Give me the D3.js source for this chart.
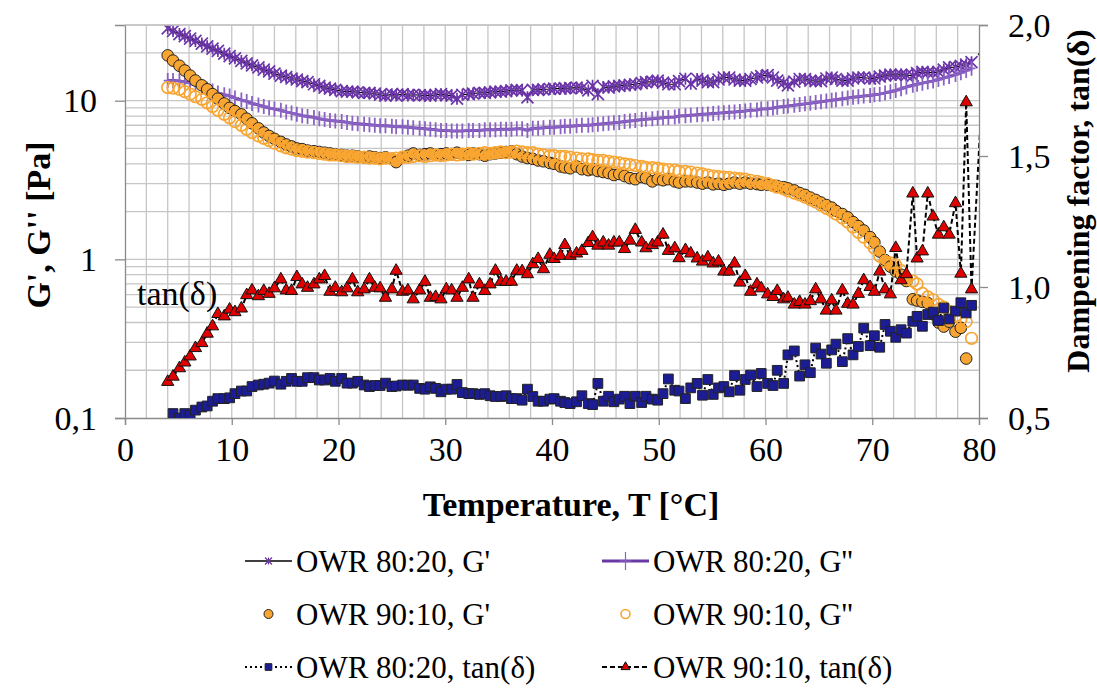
<!DOCTYPE html>
<html>
  <head>
    <meta charset="utf-8" />
    <script src="https://cdn.jsdelivr.net/npm/d3@7"></script>
    <style>
      body { margin: 0; background: #fff; }
      text { font-family: "Liberation Serif", "Times New Roman", serif; fill: #000; }
    </style>
  </head>

  <body>
    <svg width="1097" height="691"></svg>

    <script type="text/javascript">
      // temperature of each measurement point [°C]
      var temps = [
        4.0, 4.5, 5.1, 5.6, 6.1, 6.6, 7.2, 7.7, 8.2, 8.7,
        9.3, 9.8, 10.3, 10.9, 11.4, 11.9, 12.5, 13.0, 13.5, 14.0,
        14.6, 15.1, 15.6, 16.1, 16.6, 17.1, 17.7, 18.2, 18.7, 19.2,
        19.7, 20.3, 20.8, 21.3, 21.8, 22.4, 22.9, 23.4, 23.9, 24.4,
        25.0, 25.4, 26.0, 26.5, 27.0, 27.6, 28.1, 28.6, 29.1, 29.6,
        30.1, 30.6, 31.1, 31.6, 32.2, 32.6, 33.2, 33.7, 34.2, 34.7,
        35.2, 35.7, 36.2, 36.7, 37.2, 37.7, 38.2, 38.7, 39.2, 39.8,
        40.2, 40.8, 41.2, 41.7, 42.3, 42.8, 43.4, 43.8, 44.3, 44.8,
        45.3, 45.8, 46.3, 46.8, 47.3, 47.8, 48.4, 48.8, 49.4, 49.9,
        50.4, 50.9, 51.5, 51.9, 52.5, 53.0, 53.6, 54.1, 54.6, 55.1,
        55.6, 56.1, 56.6, 57.1, 57.6, 58.1, 58.6, 59.2, 59.6, 60.2,
        60.7, 61.1, 61.7, 62.1, 62.7, 63.2, 63.7, 64.2, 64.7, 65.2,
        65.7, 66.2, 66.6, 67.2, 67.7, 68.2, 68.7, 69.2, 69.8, 70.2,
        70.7, 71.2, 71.7, 72.2, 72.7, 73.2, 73.8, 74.2, 74.7, 75.2,
        75.7, 76.2, 76.7, 77.2, 77.8, 78.3, 78.8, 79.3, 80.5
      ];

      // OWR 80:20, G' [Pa]
      var gp8020 = [
        28.6, 27.5, 26.3, 25.5, 24.6, 23.8, 22.9, 22.0, 21.3, 20.6,
        19.8, 19.1, 18.5, 17.8, 17.2, 16.7, 16.2, 15.7, 15.3, 14.8,
        14.4, 14.1, 13.8, 13.6, 13.3, 13.1, 12.7, 12.4, 12.1, 11.9,
        11.7, 11.5, 11.4, 11.4, 11.3, 11.2, 11.2, 11.1, 10.9, 10.75,
        11.0, 10.8, 11.0, 10.8, 10.9, 10.85, 10.8, 10.75, 10.9, 11.0,
        10.8, 10.75, 10.3, 10.9, 11.0, 11.1, 11.2, 11.2, 11.3, 11.4,
        11.4, 11.5, 11.6, 11.7, 11.6, 10.5, 11.7, 11.7, 11.8, 11.85,
        11.9, 11.9, 12.0, 12.0, 12.1, 12.0, 11.6, 12.4, 11.0, 12.2,
        12.1, 12.3, 12.4, 12.5, 12.6, 12.7, 12.9, 13.1, 13.2, 13.4,
        13.0, 12.7, 12.7, 13.3, 13.75, 12.8, 13.7, 13.4, 13.1, 13.1,
        13.6, 14.0, 14.0, 13.6, 13.4, 13.4, 13.7, 14.0, 14.3, 14.5,
        14.0, 13.4, 13.0, 12.5, 13.2, 13.7, 13.7, 13.4, 13.3, 13.3,
        13.8, 14.0, 13.7, 13.4, 13.4, 13.8, 14.0, 14.0, 13.8, 13.8,
        14.2, 14.4, 14.6, 14.5, 14.6, 14.5, 14.4, 14.9, 15.2, 15.1,
        15.0, 15.2, 15.7, 16.2, 16.3, 16.6, 16.9, 17.5, null
      ];

      // OWR 80:20, G'' [Pa]
      var gpp8020 = [
        13.4, 13.4, 13.3, 13.1, 12.9, 12.6, 12.2, 11.8, 11.5, 11.2,
        10.9, 10.7, 10.4, 10.1, 9.9, 9.6, 9.4, 9.2, 9.0, 8.85,
        8.7, 8.5, 8.35, 8.2, 8.05, 7.95, 7.85, 7.7, 7.6, 7.5,
        7.45, 7.4, 7.3, 7.2, 7.15, 7.1, 7.05, 7.0, 6.95, 6.95,
        6.9, 6.85, 6.85, 6.8, 6.75, 6.7, 6.65, 6.6, 6.55, 6.5,
        6.5, 6.45, 6.45, 6.45, 6.5, 6.5, 6.5, 6.55, 6.55, 6.55,
        6.6, 6.6, 6.6, 6.65, 6.65, 6.5, 6.7, 6.7, 6.75, 6.8,
        6.8, 6.85, 6.9, 6.9, 6.95, 7.0, 7.0, 7.05, 7.1, 7.15,
        7.2, 7.25, 7.3, 7.4, 7.45, 7.5, 7.6, 7.65, 7.7, 7.75,
        7.8, 7.85, 7.9, 8.0, 8.05, 8.1, 8.15, 8.2, 8.25, 8.3,
        8.35, 8.4, 8.45, 8.5, 8.55, 8.6, 8.7, 8.75, 8.85, 8.9,
        9.0, 9.1, 9.2, 9.25, 9.35, 9.45, 9.55, 9.65, 9.75, 9.85,
        9.95, 10.05, 10.15, 10.3, 10.4, 10.5, 10.6, 10.7, 10.8, 10.9,
        11.0, 11.2, 11.4, 11.6, 11.9, 12.2, 12.5, 12.7, 12.9, 13.1,
        13.3, 13.6, 13.9, 14.2, 14.6, 15.0, 15.5, 16.0, null
      ];

      // OWR 90:10, G' [Pa]
      var gp9010 = [
        19.3, 17.9, 16.6, 15.5, 14.4, 13.4, 12.5, 11.8, 11.0, 10.3,
        9.6, 9.0, 8.6, 8.2, 7.7, 7.2, 6.7, 6.3, 6.0, 5.75,
        5.5, 5.3, 5.15, 5.0, 4.95, 4.85, 4.8, 4.75, 4.7, 4.65,
        4.6, 4.55, 4.5, 4.5, 4.45, 4.4, 4.45, 4.4, 4.35, 4.4,
        4.3, 4.1, 4.4, 4.5, 4.65, 4.55, 4.6, 4.65, 4.55, 4.6,
        4.65, 4.6, 4.7, 4.6, 4.55, 4.65, 4.6, 4.5, 4.6, 4.65,
        4.7, 4.75, 4.8, 4.6, 4.45, 4.35, 4.3, 4.2, 4.15, 4.05,
        4.0, 3.85, 3.8, 3.75, 3.85, 3.7, 3.65, 3.7, 3.6, 3.55,
        3.5, 3.4, 3.45, 3.35, 3.25, 3.2, 3.3, 3.25, 3.1, 3.2,
        3.15, 3.2, 3.1, 3.05, 3.1, 3.1, 3.05, 3.0, 3.05, 2.97,
        3.0, 2.95, 3.0, 3.05, 3.0, 3.05, 3.0, 2.98, 2.95, 2.95,
        2.92, 2.9, 2.85, 2.8, 2.72, 2.62, 2.55, 2.45, 2.37, 2.28,
        2.2, 2.12, 2.02, 1.93, 1.84, 1.72, 1.62, 1.52, 1.38, 1.28,
        1.12, 0.99, 0.9, 0.84, 0.8, 0.73, 0.56, 0.55, 0.54, 0.53,
        0.45, 0.4, 0.377, 0.405, 0.35, 0.37, 0.237, null, null
      ];

      // OWR 90:10, G'' [Pa]
      var gpp9010 = [
        12.1, 12.0, 11.8, 11.4, 11.0, 10.6, 10.2, 9.7, 9.2, 8.7,
        8.2, 7.8, 7.4, 7.0, 6.6, 6.3, 6.0, 5.8, 5.6, 5.4,
        5.2, 5.05, 4.95, 4.85, 4.8, 4.75, 4.7, 4.65, 4.6, 4.55,
        4.55, 4.5, 4.45, 4.45, 4.4, 4.4, 4.35, 4.35, 4.3, 4.35,
        4.3, 4.35, 4.4, 4.4, 4.45, 4.5, 4.45, 4.5, 4.55, 4.5,
        4.55, 4.6, 4.55, 4.6, 4.65, 4.6, 4.65, 4.7, 4.65, 4.7,
        4.75, 4.7, 4.75, 4.8, 4.75, 4.7, 4.7, 4.6, 4.55, 4.5,
        4.5, 4.45, 4.45, 4.4, 4.35, 4.3, 4.3, 4.25, 4.2, 4.2,
        4.15, 4.1, 4.05, 4.0, 3.95, 3.9, 3.85, 3.8, 3.78, 3.75,
        3.7, 3.68, 3.65, 3.6, 3.58, 3.55, 3.5, 3.45, 3.4, 3.35,
        3.32, 3.3, 3.28, 3.25, 3.22, 3.2, 3.15, 3.1, 3.05, 3.0,
        2.92, 2.85, 2.78, 2.7, 2.62, 2.55, 2.47, 2.38, 2.3, 2.2,
        2.1, 2.02, 1.93, 1.82, 1.72, 1.6, 1.48, 1.38, 1.27, 1.18,
        1.05, 0.97, 0.95, 0.92, 0.85, 0.76, 0.73, 0.7, 0.61, 0.58,
        0.556, 0.52, 0.5, 0.47, 0.44, 0.42, 0.405, 0.318, null
      ];

      // OWR 80:20, tan(δ)
      var tan8020 = [
        null, 0.517, 0.5, 0.517, 0.51, 0.53, 0.542, 0.546, 0.564, 0.574,
        0.574, 0.577, 0.593, 0.603, 0.603, 0.62, 0.626, 0.629, 0.633, 0.641,
        0.629, 0.64, 0.651, 0.64, 0.64, 0.654, 0.654, 0.645, 0.645, 0.651,
        0.64, 0.651, 0.633, 0.633, 0.64, 0.626, 0.62, 0.624, 0.624, 0.633,
        0.62, 0.622, 0.626, 0.625, 0.626, 0.613, 0.61, 0.619, 0.613, 0.6,
        0.61, 0.61, 0.628, 0.597, 0.593, 0.593, 0.59, 0.593, 0.585, 0.582,
        0.582, 0.585, 0.574, 0.574, 0.568, 0.61, 0.582, 0.564, 0.564, 0.572,
        0.574, 0.564, 0.559, 0.555, 0.562, 0.585, 0.555, 0.551, 0.632, 0.564,
        0.583, 0.562, 0.572, 0.583, 0.555, 0.583, 0.559, 0.583, 0.572, 0.568,
        0.593, 0.649, 0.606, 0.603, 0.574, 0.615, 0.632, 0.587, 0.647, 0.59,
        0.615, 0.62, 0.6, 0.662, 0.606, 0.647, 0.664, 0.62, 0.67, 0.632,
        0.624, 0.682, 0.632, 0.741, 0.756, 0.66, 0.703, 0.673, 0.767, 0.744,
        0.709, 0.76, 0.782, 0.715, 0.803, 0.741, 0.773, 0.843, 0.776, 0.814,
        0.77, 0.857, 0.831, 0.808, 0.837, 0.824, 0.869, 0.888, 0.85, 0.895,
        0.904, 0.872, 0.92, 0.878, 0.908, 0.94, 0.901, 0.93, null
      ];

      // OWR 90:10, tan(δ)
      var tan9010 = [
        0.638, 0.658, 0.69, 0.712, 0.735, 0.767, 0.786, 0.822, 0.85, 0.897,
        0.888, 0.914, 0.904, 0.918, 0.969, 0.987, 0.965, 0.985, 0.974, 0.995,
        1.029, 0.987, 0.985, 1.038, 1.01, 0.997, 1.01, 1.029, 1.042, 0.982,
        0.997, 0.98, 0.995, 1.029, 0.98, 0.991, 1.029, 0.997, 0.995, 0.959,
        0.991, 1.062, 0.982, 0.987, 0.953, 0.987, 1.02, 0.959, 0.962, 0.953,
        0.991, 0.987, 0.959, 0.997, 1.029, 0.959, 1.01, 0.985, 1.01, 1.062,
        1.02, 1.02, 1.02, 1.062, 1.06, 1.049, 1.087, 1.107, 1.068, 1.123,
        1.107, 1.119, 1.16, 1.119, 1.128, 1.138, 1.168, 1.19, 1.158, 1.17,
        1.158, 1.17, 1.17, 1.145, 1.177, 1.218, 1.17, 1.148, 1.16, 1.17,
        1.2, 1.138, 1.148, 1.11, 1.141, 1.128, 1.109, 1.097, 1.113, 1.09,
        1.097, 1.059, 1.059, 1.09, 1.017, 1.042, 0.982, 1.01, 0.995, 0.972,
        0.962, 0.985, 0.953, 0.959, 0.933, 0.943, 0.933, 0.946, 0.991, 0.953,
        0.91, 0.949, 0.91, 0.987, 0.936, 0.933, 0.974, 1.026, 1.0, 0.982,
        1.059, 0.991, 0.972, 1.149, 1.026, 1.049, 1.357, 1.109, 1.136, 1.357,
        1.269, 1.2, 1.228, 1.2, 1.32, 1.051, 1.705, 0.991, 1.9
      ];

      var xTicks = [0, 10, 20, 30, 40, 50, 60, 70, 80];
      var xGrid = [2, 4, 6, 8, 10, 12, 14, 16, 18, 20, 22, 24, 26, 28, 30, 32, 34, 36, 38,
        40, 42, 44, 46, 48, 50, 52, 54, 56, 58, 60, 62, 64, 66, 68, 70, 72, 74, 76, 78];
      var yLeftTicks = [0.1, 1, 10];
      var yLeftLabels = ["0,1", "1", "10"];
      var yLeftGrid = [0.2, 0.3, 0.4, 0.5, 0.6, 0.7, 0.8, 0.9, 1, 2, 3, 4, 5, 6, 7, 8, 9, 10, 20, 30];
      var yRightTicks = [0.5, 1.0, 1.5, 2.0];
      var yRightLabels = ["0,5", "1,0", "1,5", "2,0"];

      var svg = d3.select("svg");
      var plotL = 125, plotR = 979, plotT = 25, plotB = 418;

      var x = d3.scaleLinear().domain([0, 80]).range([plotL, plotR]);
      var yL = d3.scaleLog().domain([0.1, 30]).range([plotB, plotT]);
      var yR = d3.scaleLinear().domain([0.5, 2.0]).range([plotB, plotT]);

      svg.append("defs").append("clipPath").attr("id", "plot")
        .append("rect").attr("x", plotL).attr("y", plotT)
        .attr("width", plotR - plotL).attr("height", plotB - plotT);

      // grid
      var gridColor = "#c6c6c6";
      var grid = svg.append("g").attr("class", "grid");
      grid.selectAll(null).data(xGrid).enter().append("line")
        .attr("x1", (d) => x(d)).attr("x2", (d) => x(d))
        .attr("y1", plotT).attr("y2", plotB)
        .attr("stroke", gridColor).attr("stroke-width", 1.3);
      grid.selectAll(null).data(yLeftGrid).enter().append("line")
        .attr("x1", plotL).attr("x2", plotR)
        .attr("y1", (d) => yL(d)).attr("y2", (d) => yL(d))
        .attr("stroke", gridColor).attr("stroke-width", 1.3);

      // axes
      var axisColor = "#8a8a8a";
      var gx = svg.append("g").attr("transform", "translate(0," + plotB + ")")
        .call(d3.axisBottom(x).tickValues(xTicks).tickSize(7).tickPadding(12));
      var gl = svg.append("g").attr("transform", "translate(" + plotL + ",0)")
        .call(d3.axisLeft(yL).tickValues(yLeftTicks).tickSize(10).tickPadding(18)
          .tickFormat((d, i) => yLeftLabels[i]));
      var gr = svg.append("g").attr("transform", "translate(" + plotR + ",0)")
        .call(d3.axisRight(yR).tickValues(yRightTicks).tickSize(9).tickPadding(20)
          .tickFormat((d, i) => yRightLabels[i]));

      [gx, gl, gr].forEach((g) => {
        g.select(".domain").attr("stroke", axisColor).attr("stroke-width", 1.3);
        g.selectAll(".tick line").attr("stroke", axisColor).attr("stroke-width", 1.3);
        g.selectAll(".tick text")
          .attr("font-family", "Liberation Serif, Times New Roman, serif")
          .attr("font-size", 34).attr("fill", "#000");
      });
      gx.selectAll(".tick text").attr("dy", "0.71em");
      gl.selectAll(".tick text").attr("dy", "0.33em");
      gr.selectAll(".tick text").attr("dy", "0.33em");

      // axis titles
      svg.append("text").attr("x", 571).attr("y", 516)
        .attr("text-anchor", "middle").attr("font-size", 34).attr("font-weight", "bold")
        .text("Temperature, T [°C]");
      svg.append("text").attr("transform", "translate(50,225) rotate(-90)")
        .attr("text-anchor", "middle").attr("font-size", 34).attr("font-weight", "bold")
        .text("G', G'' [Pa]");
      svg.append("text").attr("transform", "translate(1089,201) rotate(-90)")
        .attr("text-anchor", "middle").attr("font-size", 32).attr("font-weight", "bold")
        .text("Dampening factor, tan(δ)");

      // marker shapes
      var starPath = (s) =>
        "M" + -s + "," + -s + "L" + s + "," + s + "M" + -s + "," + s + "L" + s + "," + -s +
        "M0," + -s + "L0," + s;
      var plusPath = (h, w) => "M0," + -h + "L0," + h + "M" + -w + ",0L" + w + ",0";
      var circle = (r) =>
        "M" + -r + ",0A" + r + "," + r + " 0 1,0 " + r + ",0A" + r + "," + r + " 0 1,0 " + -r + ",0Z";
      var squarePath = d3.symbol().type(d3.symbolSquare);
      var trianglePath = d3.symbol().type(d3.symbolTriangle);

      function points(vals) {
        return temps.map((t, i) => ({ t: t, v: vals[i] }));
      }

      var plot = svg.append("g").attr("clip-path", "url(#plot)");

      function drawSeries(vals, yScale, opt) {
        var pts = points(vals);
        var g = plot.append("g");
        if (opt.line) {
          var lineGen = d3.line()
            .defined((d) => d.v != null)
            .x((d) => x(d.t))
            .y((d) => yScale(d.v));
          g.append("path")
            .attr("d", lineGen(pts))
            .attr("fill", "none")
            .attr("stroke", opt.line)
            .attr("stroke-width", opt.lineWidth)
            .attr("stroke-dasharray", opt.dash || null);
        }
        g.selectAll(null)
          .data(pts.filter((d) => d.v != null))
          .enter()
          .append("path")
          .attr("transform", (d) => "translate(" + x(d.t) + "," + yScale(d.v) + ")")
          .attr("d", opt.marker)
          .attr("fill", opt.fill)
          .attr("stroke", opt.stroke)
          .attr("stroke-width", opt.strokeWidth);
      }

      drawSeries(gp8020, yL, {
        line: "#000", lineWidth: 1.2, marker: starPath(6),
        fill: "none", stroke: "#6b35a8", strokeWidth: 1.7
      });
      drawSeries(gpp8020, yL, {
        line: "#6a38a4", lineWidth: 3, marker: plusPath(7.5, 4),
        fill: "none", stroke: "#8a62c4", strokeWidth: 1.8
      });
      drawSeries(gp9010, yL, {
        marker: circle(5.8), fill: "#f8a532", stroke: "#222", strokeWidth: 1
      });
      drawSeries(gpp9010, yL, {
        marker: circle(5.8), fill: "none", stroke: "#f9a531", strokeWidth: 1.7
      });
      drawSeries(tan8020, yR, {
        line: "#000", lineWidth: 2, dash: "2,3", marker: squarePath.size(95)(),
        fill: "#1c1c94", stroke: "#222", strokeWidth: 1
      });
      drawSeries(tan9010, yR, {
        line: "#000", lineWidth: 2, dash: "5,3", marker: trianglePath.size(65)(),
        fill: "#e00000", stroke: "#111", strokeWidth: 1
      });

      // top border of the plot area
      svg.append("line").attr("x1", plotL).attr("x2", plotR)
        .attr("y1", plotT).attr("y2", plotT)
        .attr("stroke", gridColor).attr("stroke-width", 1.3);

      // annotation
      svg.append("text").attr("x", 137).attr("y", 305)
        .attr("font-size", 34).text("tan(δ)");

      // legend
      var legendItems = [
        { label: "OWR 80:20, G'", col: 0, row: 0 },
        { label: "OWR 80:20, G''", col: 1, row: 0 },
        { label: "OWR 90:10, G'", col: 0, row: 1 },
        { label: "OWR 90:10, G''", col: 1, row: 1 },
        { label: "OWR 80:20, tan(δ)", col: 0, row: 2 },
        { label: "OWR 90:10, tan(δ)", col: 1, row: 2 }
      ];
      var colX = [245, 602], rowY = [561, 614, 667];
      var legend = svg.append("g");
      legendItems.forEach((d, i) => {
        var lx = colX[d.col], ly = rowY[d.row];
        var g = legend.append("g").attr("transform", "translate(" + lx + "," + ly + ")");
        if (i === 0) {
          g.append("line").attr("x1", 0).attr("x2", 47).attr("stroke", "#000").attr("stroke-width", 1.5);
          g.append("path").attr("transform", "translate(23.5,0)").attr("d", starPath(3.5))
            .attr("stroke", "#6b35a8").attr("stroke-width", 1.2).attr("fill", "none");
        } else if (i === 1) {
          g.append("line").attr("x1", 0).attr("x2", 47).attr("stroke", "#6a38a4").attr("stroke-width", 3);
          g.append("path").attr("transform", "translate(23.5,0)").attr("d", plusPath(9, 6))
            .attr("stroke", "#8a62c4").attr("stroke-width", 1.2).attr("fill", "none");
        } else if (i === 2) {
          g.append("path").attr("transform", "translate(23.5,0)").attr("d", circle(4.5))
            .attr("fill", "#f8a532").attr("stroke", "#222").attr("stroke-width", 1);
        } else if (i === 3) {
          g.append("path").attr("transform", "translate(23.5,0)").attr("d", circle(4.5))
            .attr("fill", "none").attr("stroke", "#f9a531").attr("stroke-width", 1.6);
        } else if (i === 4) {
          g.append("line").attr("x1", 0).attr("x2", 47).attr("stroke", "#000")
            .attr("stroke-width", 2).attr("stroke-dasharray", "2,3");
          g.append("path").attr("transform", "translate(23.5,0)").attr("d", squarePath.size(45)())
            .attr("fill", "#1c1c94").attr("stroke", "#222").attr("stroke-width", 1);
        } else {
          g.append("line").attr("x1", 0).attr("x2", 47).attr("stroke", "#000")
            .attr("stroke-width", 2).attr("stroke-dasharray", "5,3");
          g.append("path").attr("transform", "translate(23.5,0)").attr("d", trianglePath.size(35)())
            .attr("fill", "#e00000").attr("stroke", "#111").attr("stroke-width", 1);
        }
        g.append("text").attr("x", 51).attr("dy", "0.35em")
          .attr("font-size", 31).text(d.label);
      });
    </script>
  </body>
</html>
